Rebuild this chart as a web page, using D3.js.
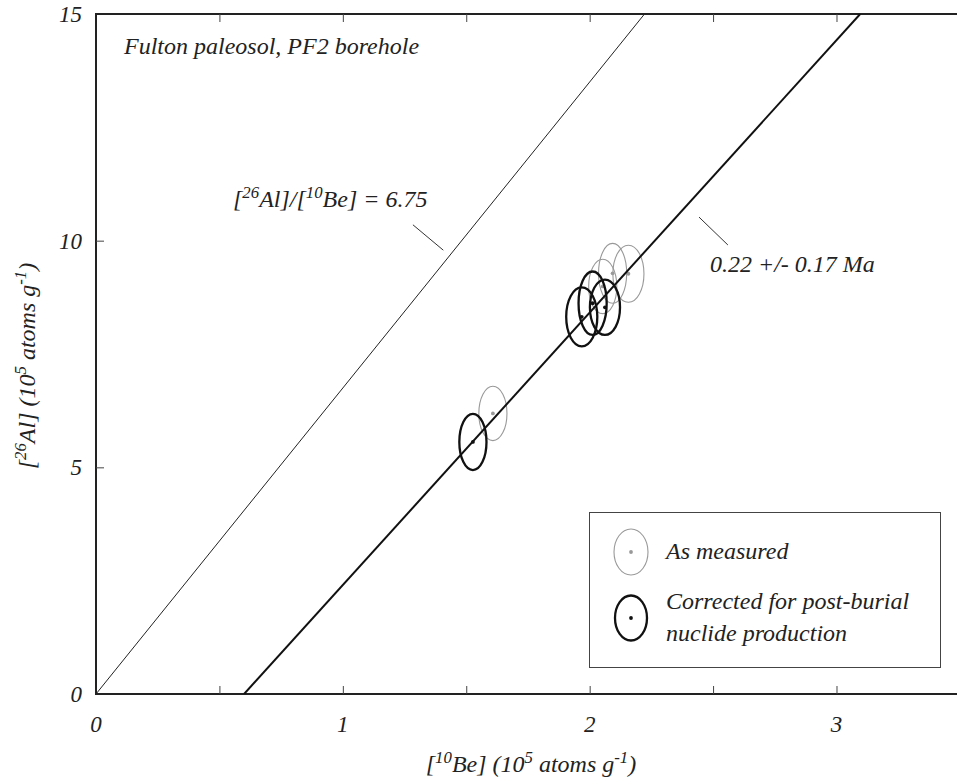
<!DOCTYPE html>
<html>
<head>
<meta charset="utf-8">
<script src="https://cdn.jsdelivr.net/npm/d3@7"></script>
<style>
  html, body { margin: 0; padding: 0; background: #fff; }
  svg { display: block; }
  text { font-family: "Liberation Serif", "DejaVu Serif", serif; font-style: italic; fill: #222; }
</style>
</head>
<body>
<svg id="chart" width="957" height="782"></svg>
<script>
// [10Be] and [26Al] concentrations (10^5 atoms/g) with 1-sigma errors
const measuredBe     = [1.608, 2.053, 2.093, 2.157];
const measuredAl     = [6.19, 8.99, 9.28, 9.27];
const measuredBeErr  = [0.057, 0.057, 0.057, 0.063];
const measuredAlErr  = [0.60, 0.60, 0.66, 0.63];

const correctedBe    = [1.527, 1.968, 2.012, 2.062];
const correctedAl    = [5.56, 8.32, 8.62, 8.53];
const correctedBeErr = [0.055, 0.063, 0.057, 0.061];
const correctedAlErr = [0.62, 0.65, 0.70, 0.61];

// Reference lines
const productionRatio = 6.75;          // surface production ratio
const burialLineBe = [0.6, 3.096];     // isochron for 0.22 Ma burial
const burialLineAl = [0, 15];

// Axis ticks
const xTicksMajor = [0, 1, 2, 3];
const xTicksMinor = [0.5, 1, 1.5, 2, 2.5, 3];
const yTicksMajor = [0, 5, 10, 15];
const yTicksMinor = [5, 10];

const svg = d3.select("#chart");
const x = d3.scaleLinear().domain([0, 3.5]).range([96, 959.9]);
const y = d3.scaleLinear().domain([0, 15]).range([694, 14]);

svg.append("defs").append("clipPath").attr("id", "plot")
  .append("rect").attr("x", x(0)).attr("y", y(15))
  .attr("width", x(3.5) - x(0)).attr("height", y(0) - y(15));

// Frame: left, bottom and top edges
const frame = svg.append("g").attr("stroke", "#222").attr("stroke-width", 2).attr("fill", "none");
frame.append("path").attr("d", `M${x(3.5)},${y(15)}H${x(0)}V${y(0)}H${x(3.5)}`);

// Inward ticks on bottom and top edges, via D3 axes with negative tick size
const bottomAxis = d3.axisBottom(x).tickValues(xTicksMinor).tickSize(-8).tickFormat("");
const gB = svg.append("g").attr("transform", `translate(0,${y(0)})`).call(bottomAxis);
const topAxis = d3.axisTop(x).tickValues(xTicksMinor).tickSize(-8).tickFormat("");
const gT = svg.append("g").attr("transform", `translate(0,${y(15)})`).call(topAxis);
const leftAxis = d3.axisLeft(y).tickValues(yTicksMinor).tickSize(-8).tickFormat("");
const gL = svg.append("g").attr("transform", `translate(${x(0)},0)`).call(leftAxis);
[gB, gT, gL].forEach(g => {
  g.select(".domain").remove();
  g.selectAll(".tick line").attr("stroke", "#444").attr("stroke-width", 1);
});

// Tick labels
svg.append("g").selectAll("text").data(xTicksMajor).join("text")
  .attr("x", d => x(d)).attr("y", 732)
  .attr("text-anchor", "middle").attr("font-size", 23)
  .text(d => d);
svg.append("g").selectAll("text").data(yTicksMajor).join("text")
  .attr("x", 82).attr("y", d => y(d) + 8)
  .attr("text-anchor", "end").attr("font-size", 23)
  .text(d => d);

// Axis titles with superscripts
function richText(sel, parts, size) {
  parts.forEach(p => {
    const t = sel.append("tspan").text(p.t);
    if (p.sup) t.attr("font-size", size * 0.7).attr("baseline-shift", "super");
  });
}
const xTitle = svg.append("text").attr("x", 531).attr("y", 772)
  .attr("text-anchor", "middle").attr("font-size", 24);
richText(xTitle, [{t: "["}, {t: "10", sup: true}, {t: "Be] (10"}, {t: "5", sup: true},
  {t: " atoms g"}, {t: "-1", sup: true}, {t: ")"}], 24);

const yTitle = svg.append("text").attr("transform", "translate(35,366) rotate(-90)")
  .attr("text-anchor", "middle").attr("font-size", 24);
richText(yTitle, [{t: "["}, {t: "26", sup: true}, {t: "Al] (10"}, {t: "5", sup: true},
  {t: " atoms g"}, {t: "-1", sup: true}, {t: ")"}], 24);

// Title inside the plot
svg.append("text").attr("x", 124).attr("y", 54).attr("font-size", 24)
  .text("Fulton paleosol, PF2 borehole");

// Error ellipses
const plot = svg.append("g").attr("clip-path", "url(#plot)");
function ellipses(be, al, beErr, alErr, color, width) {
  const rows = be.map((b, i) => ({b, a: al[i], eb: beErr[i], ea: alErr[i]}));
  const g = plot.append("g");
  g.selectAll("ellipse").data(rows).join("ellipse")
    .attr("cx", d => x(d.b)).attr("cy", d => y(d.a))
    .attr("rx", d => x(d.b + d.eb) - x(d.b))
    .attr("ry", d => y(d.a - d.ea) - y(d.a))
    .attr("fill", "none").attr("stroke", color).attr("stroke-width", width);
  g.selectAll("circle").data(rows).join("circle")
    .attr("cx", d => x(d.b)).attr("cy", d => y(d.a)).attr("r", 1.9)
    .attr("fill", color);
}
ellipses(measuredBe, measuredAl, measuredBeErr, measuredAlErr, "#999", 1.1);
ellipses(correctedBe, correctedAl, correctedBeErr, correctedAlErr, "#111", 2.3);

// Production-ratio line and burial isochron
const line = d3.line().x(d => x(d[0])).y(d => y(d[1]));
plot.append("path")
  .attr("d", line([[0, 0], [15 / productionRatio, 15]]))
  .attr("fill", "none").attr("stroke", "#222").attr("stroke-width", 1);
plot.append("path")
  .attr("d", line(burialLineBe.map((b, i) => [b, burialLineAl[i]])))
  .attr("fill", "none").attr("stroke", "#111").attr("stroke-width", 2);

// Annotation leaders and labels
const leaders = [
  [[1.284, 10.35], [1.407, 9.79]],
  [[2.443, 10.52], [2.560, 9.905]]
];
svg.append("g").selectAll("path").data(leaders).join("path")
  .attr("d", d => line(d)).attr("stroke", "#333").attr("stroke-width", 1);

const ratioLabel = svg.append("text").attr("x", 233).attr("y", 207).attr("font-size", 24);
richText(ratioLabel, [{t: "["}, {t: "26", sup: true}, {t: "Al]/["}, {t: "10", sup: true},
  {t: "Be] = " + productionRatio.toFixed(2)}], 24);
svg.append("text").attr("x", 710).attr("y", 272).attr("font-size", 24)
  .text("0.22 +/- 0.17 Ma");

// Legend
const legend = svg.append("g");
legend.append("rect").attr("x", 589.5).attr("y", 512.5).attr("width", 351).attr("height", 155)
  .attr("fill", "#fff").attr("stroke", "#444").attr("stroke-width", 1);
const legendItems = [
  {cy: 552, color: "#999", w: 1.1, rx: 17, ry: 23, lines: ["As measured"]},
  {cy: 618, color: "#111", w: 2.3, rx: 16, ry: 22.5, lines: ["Corrected for post-burial", "nuclide production"]}
];
legendItems.forEach(it => {
  legend.append("ellipse").attr("cx", 631).attr("cy", it.cy).attr("rx", it.rx).attr("ry", it.ry)
    .attr("fill", "none").attr("stroke", it.color).attr("stroke-width", it.w);
  legend.append("circle").attr("cx", 631).attr("cy", it.cy).attr("r", 1.9).attr("fill", it.color);
  const n = it.lines.length;
  it.lines.forEach((s, i) => {
    legend.append("text").attr("x", 666).attr("y", it.cy + 7 + (i - (n - 1) / 2) * 32)
      .attr("font-size", 24).text(s);
  });
});
</script>
</body>
</html>
